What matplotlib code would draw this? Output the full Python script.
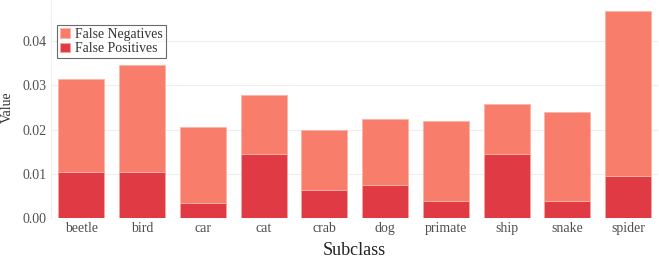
import numpy as np
import matplotlib
matplotlib.use("Agg")
import matplotlib.pyplot as plt
from matplotlib import rcParams
rcParams['font.family'] = ['Liberation Serif', 'DejaVu Serif']

subclasses = ["beetle", "bird", "car", "cat", "crab", "dog", "primate", "ship", "snake", "spider"]
false_pos = [0.0104, 0.0104, 0.0034, 0.0145, 0.0062, 0.0074, 0.0039, 0.0145, 0.0039, 0.0094]
false_neg = [0.0211, 0.0242, 0.0171, 0.0134, 0.0137, 0.0151, 0.0181, 0.0114, 0.0201, 0.0376]

fn_color = "#f87d6a"
fp_color = "#e03a44"
tick_color = "#505050"

fig = plt.figure(figsize=(6.59, 2.60), dpi=100)
ax = fig.add_axes([0.0774, 0.1627, 0.9217, 0.8373])

x = np.arange(len(subclasses))
fp = np.array(false_pos)
fn = np.array(false_neg)
ax.bar(x, fp, width=0.757, color=fp_color, edgecolor="#f7a59a", linewidth=0.6,
       label="False Positives", zorder=3)
ax.bar(x, fn, width=0.757, bottom=fp, color=fn_color, edgecolor="#fbb3a6", linewidth=0.6,
       label="False Negatives", zorder=3)

ax.set_xlim(-0.5, len(subclasses) - 0.5)
ax.set_ylim(0, 0.0494)
ax.set_yticks([0, 0.01, 0.02, 0.03, 0.04])
ax.set_yticklabels(["0.00", "0.01", "0.02", "0.03", "0.04"])
ax.set_xticks(x)
ax.set_xticklabels(subclasses)
ax.tick_params(axis='both', length=0, labelsize=10, labelcolor=tick_color)
ax.tick_params(axis='y', pad=3)
ax.tick_params(axis='x', pad=3)
ax.grid(axis='y', color="#eeeeee", linewidth=0.8, zorder=0)

for side in ["top", "right", "bottom"]:
    ax.spines[side].set_visible(False)
ax.spines["left"].set_color("#f0f0f0")
ax.spines["left"].set_linewidth(0.8)

ax.set_xlabel("Subclass", fontsize=13, color="#222222", labelpad=5)
ax.set_ylabel("Value", fontsize=10, color="#333333", va="center")
ax.yaxis.set_label_coords(-0.0724, 0.508)

handles, labels = ax.get_legend_handles_labels()
leg = ax.legend(handles[::-1], labels[::-1], loc="upper left", bbox_to_anchor=(0.0104, 0.885),
                borderaxespad=0, fontsize=9.9, frameon=True, fancybox=False,
                handlelength=0.7, handleheight=0.7, handletextpad=0.4,
                borderpad=0.2, labelspacing=0.1)
leg.get_frame().set_edgecolor("#444444")
leg.get_frame().set_linewidth(0.8)
for t in leg.get_texts():
    t.set_color("#333333")

fig.savefig("out.png", dpi=100)
